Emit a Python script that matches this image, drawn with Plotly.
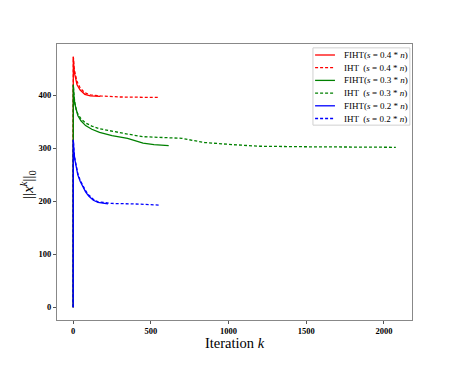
import plotly.graph_objects as go

# iteration counts and support sizes ||x^k||_0
fiht04_k = [0, 1, 5, 10, 25, 45, 75, 110, 175]
fiht04_v = [0, 473, 452, 440, 420, 410, 402, 399, 398]
iht04_k = [0, 1, 5, 10, 25, 45, 75, 110, 175, 300, 557]
iht04_v = [0, 473, 455, 445, 426, 414, 405, 401, 399, 397, 396]

fiht03_k = [0, 1, 5, 10, 20, 30, 50, 80, 120, 170, 250, 350, 450, 520, 615]
fiht03_v = [0, 420, 400, 385, 370, 362, 352, 343, 336, 330, 324, 319, 310, 307, 305]
iht03_k = [0, 1, 5, 10, 20, 30, 50, 80, 120, 170, 250, 350, 450, 550, 700,
           770, 847, 1027, 1202, 1500, 1780, 2077]
iht03_v = [0, 420, 402, 388, 372, 365, 356, 348, 342, 337, 332, 327, 322, 321, 319,
           315, 311, 307, 304, 303, 302, 302]

fiht02_k = [0, 1, 5, 10, 20, 30, 45, 60, 80, 100, 130, 160, 224]
fiht02_v = [0, 316, 295, 280, 262, 250, 238, 228, 218, 210, 202, 198, 195]
iht02_k = [0, 1, 5, 10, 20, 30, 45, 60, 80, 100, 130, 160, 250, 400, 551]
iht02_v = [0, 316, 297, 282, 265, 252, 240, 230, 220, 212, 204, 199, 196, 195, 193]

series = [
    ("FIHT(<i>s</i> = 0.4 * <i>n</i>)", fiht04_k, fiht04_v, "red", "solid"),
    ("IHT  (<i>s</i> = 0.4 * <i>n</i>)", iht04_k, iht04_v, "red", "3px,2px"),
    ("FIHT(<i>s</i> = 0.3 * <i>n</i>)", fiht03_k, fiht03_v, "green", "solid"),
    ("IHT  (<i>s</i> = 0.3 * <i>n</i>)", iht03_k, iht03_v, "green", "3px,2px"),
    ("FIHT(<i>s</i> = 0.2 * <i>n</i>)", fiht02_k, fiht02_v, "blue", "solid"),
    ("IHT  (<i>s</i> = 0.2 * <i>n</i>)", iht02_k, iht02_v, "blue", "3px,2px"),
]

serif = "Liberation Serif, Times New Roman, serif"

fig = go.Figure()
for name, k, v, color, dash in series:
    fig.add_trace(go.Scatter(
        x=k, y=v, mode="lines", name=name, showlegend=False,
        line=dict(color=color, width=1.3, dash=dash),
    ))

# hand-built legend box (matplotlib style, compact rows)
fig.add_shape(type="rect", xref="paper", yref="paper",
              x0=0.721, x1=0.994, y0=0.706, y1=0.986,
              line=dict(color="#d0d0d0", width=1), fillcolor="white", layer="above")
for i, (name, k, v, color, dash) in enumerate(series):
    yy = (320 - (55 + 12.7 * i)) / 276
    fig.add_shape(type="line", xref="paper", yref="paper",
                  x0=0.727, x1=0.783, y0=yy, y1=yy, layer="above",
                  line=dict(color=color, width=1.3, dash=dash))
    fig.add_annotation(xref="paper", yref="paper", x=0.803, y=yy,
                       xanchor="left", yanchor="middle", showarrow=False,
                       text=name, font=dict(family=serif, size=9, color="black"))

# axis titles as annotations so they sit where matplotlib put them
fig.add_annotation(xref="paper", yref="paper", x=0.5, y=-0.085,
                   xanchor="center", yanchor="middle", showarrow=False,
                   text="Iteration <i>k</i>", font=dict(family=serif, size=14.5))
fig.add_annotation(xref="paper", yref="paper", x=-0.082, y=0.493,
                   xanchor="center", yanchor="middle", showarrow=False, textangle=-90,
                   text="||<i>x</i><sup><i>k</i></sup>||<sub>0</sub>",
                   font=dict(family=serif, size=15))

axis_common = dict(
    showline=True, linecolor="#888888", linewidth=1, mirror=True,
    ticks="outside", ticklen=3, tickcolor="#555555",
    showgrid=False, zeroline=False, automargin=False,
    tickfont=dict(family=serif, size=8.5, color="black", weight="bold"),
)

# page body has an 8px margin, so the figure is shrunk and shifted to match
fig.update_layout(
    width=441, height=350,
    margin=dict(l=49, r=37, t=36, b=38),
    paper_bgcolor="white", plot_bgcolor="white",
    font=dict(family=serif, color="black"),
    xaxis=dict(range=[-104, 2181], tickvals=[0, 500, 1000, 1500, 2000], **axis_common),
    yaxis=dict(range=[-24, 497], tickvals=[0, 100, 200, 300, 400], **axis_common),
    showlegend=False,
)

fig.write_html("out.html")
